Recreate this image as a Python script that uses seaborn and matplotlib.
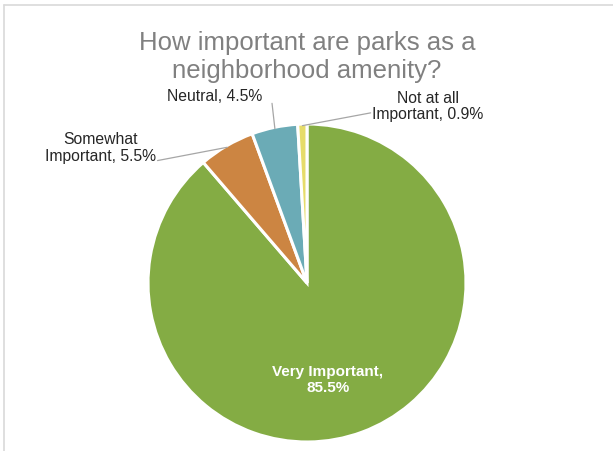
import numpy as np
import matplotlib
matplotlib.use("Agg")
import matplotlib.pyplot as plt
import seaborn as sns

categories = ["Very Important", "Somewhat\nImportant", "Neutral", "Not at all\nImportant"]
values = [85.5, 5.5, 4.5, 0.9]
colors = ["#84AC44", "#CC8542", "#6BABB6", "#E6DC6A"]
title = "How important are parks as a\nneighborhood amenity?"

sns.set_theme(style="white")
plt.rcParams['font.family'] = ['Liberation Sans', 'DejaVu Sans']

W, H = 613, 451
fig = plt.figure(figsize=(W / 100, H / 100), dpi=100)
fig.patch.set_facecolor("white")

cx, cy, r = 307, 283, 159
ax = fig.add_axes([(cx - r) / W, (H - cy - r) / H, 2 * r / W, 2 * r / H])
wedges, _ = ax.pie(values, colors=colors, startangle=90, counterclock=False,
                   wedgeprops=dict(edgecolor="white", linewidth=2.2))
ax.set_xlim(-1, 1)
ax.set_ylim(-1, 1)
ax.set_aspect("equal")
ax.axis("off")

# inside label
ax.text(0.13, -0.61, f"{categories[0]},\n{values[0]}%", ha="center", va="center",
        color="white", fontsize=11, fontweight="bold", linespacing=1.2)

# outside labels with leader lines
label_pos = {1: ((-1.30, 0.85), (-0.94, 0.77)),
             2: ((-0.58, 1.17), (-0.22, 1.13)),
             3: ((0.76, 1.11), (0.40, 1.07))}
for i, (tpos, lend) in label_pos.items():
    w = wedges[i]
    mid = np.deg2rad((w.theta1 + w.theta2) / 2)
    sx, sy = 0.99 * np.cos(mid), 0.99 * np.sin(mid)
    ax.plot([sx, lend[0]], [sy, lend[1]], color="#A6A6A6", lw=0.9, clip_on=False)
    ax.text(tpos[0], tpos[1], f"{categories[i]}, {values[i]}%", ha="center",
            va="center", color="#262626", fontsize=11.3, linespacing=1.15,
            clip_on=False)

fig.text(cx / W, 1 - 57 / H, title, ha="center", va="center", color="#808080",
         fontsize=18.5, linespacing=1.2)

# chart border
fig.add_artist(plt.Line2D([4 / W, 4 / W], [0, 1 - 5 / H], color="#D9D9D9", lw=1.2))
fig.add_artist(plt.Line2D([4 / W, 1], [1 - 5 / H, 1 - 5 / H], color="#D9D9D9", lw=1.2))

fig.savefig("out.png", dpi=100, facecolor="white")
